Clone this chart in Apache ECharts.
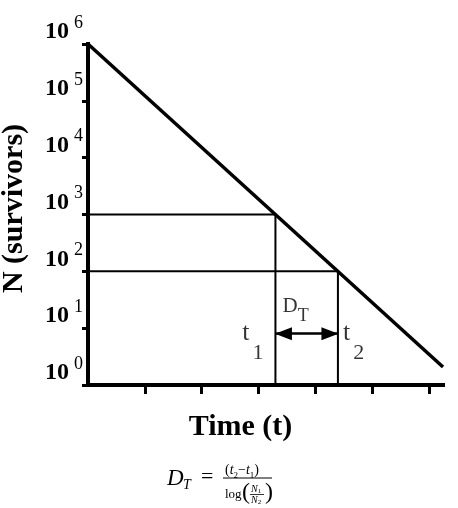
<!DOCTYPE html>
<html>
<head>
<meta charset="utf-8">
<script src="https://cdn.jsdelivr.net/npm/echarts@6/dist/echarts.min.js"></script>
<style>
  html, body { margin: 0; padding: 0; background: #fff; }
  #char { width: 458px; height: 508px; }
</style>
</head>
<body>
<div id="char"></div>
<script>
// survivor curve (time, N)
const decayTime = [0, 6.25]
const decayN = [1000000, 2.08]
// reading points
const t1 = 3.3
const t2 = 4.4
const N1 = 1000
const N2 = 100
const arrowN = 8
const labelN = 3.9
// axis ticks
const yExponents = ['0', '1', '2', '3', '4', '5', '6']
const xTickValues = [1, 2, 3, 4, 5, 6]

const serif = 'Liberation Serif, Times New Roman, serif'

let myChart = echarts.init(document.getElementById('char'))

let option = {
  animation: false,
  grid: { left: 88, right: 15, top: 44, bottom: 123, containLabel: false, outerBoundsMode: 'none' },
  xAxis: {
    type: 'value',
    min: 0,
    max: 6.25,
    interval: 1,
    name: 'Time (t)',
    nameLocation: 'middle',
    nameGap: 27,
    nameTextStyle: {
      fontFamily: serif, fontSize: 30, fontWeight: 'bold', color: '#000',
      lineHeight: 30, padding: [0, 50, 0, 0]
    },
    axisLine: { lineStyle: { color: '#000', width: 4, cap: 'square' } },
    axisTick: { customValues: xTickValues, length: 9, lineStyle: { color: '#000', width: 3 } },
    axisLabel: { show: false },
    splitLine: { show: false }
  },
  yAxis: {
    type: 'log',
    logBase: 10,
    min: 1,
    max: 1000000,
    name: 'N (survivors)',
    nameLocation: 'middle',
    nameRotate: 90,
    nameGap: 59,
    nameTextStyle: {
      fontFamily: serif, fontSize: 30, fontWeight: 'bold', color: '#000',
      lineHeight: 30, padding: [0, 0, 0, 12]
    },
    axisLine: { show: true, lineStyle: { color: '#000', width: 4, cap: 'square' } },
    axisTick: { length: 6, lineStyle: { color: '#000', width: 3 } },
    axisLabel: {
      margin: 5,
      verticalAlign: 'bottom',
      formatter: function (v) {
        let e = yExponents[Math.round(Math.log10(v))]
        return '{b|10}{e|' + e + '}'
      },
      rich: {
        b: { fontFamily: serif, fontSize: 24, fontWeight: 'bold', color: '#000', lineHeight: 24, verticalAlign: 'bottom' },
        e: { fontFamily: serif, fontSize: 18, color: '#000', lineHeight: 18, padding: [0, 0, 12, 5], verticalAlign: 'bottom' }
      }
    },
    splitLine: { show: false }
  },
  series: [
    {
      type: 'line',
      data: decayTime.map((t, i) => [t, decayN[i]]),
      showSymbol: false,
      lineStyle: { color: '#000', width: 3.5 },
      z: 5
    },
    {
      type: 'line',
      data: [[0, N1], [t1, N1], [t1, 1]],
      showSymbol: false,
      lineStyle: { color: '#000', width: 2 }
    },
    {
      type: 'line',
      data: [[0, N2], [t2, N2], [t2, 1]],
      showSymbol: false,
      lineStyle: { color: '#000', width: 2 },
      markLine: {
        silent: true,
        symbol: ['triangle', 'triangle'],
        symbolSize: [13, 17],
        symbolOffset: [[0, 8], [0, 8]],
        label: { show: false },
        lineStyle: { color: '#000', width: 2.5, type: 'solid' },
        itemStyle: { color: '#000' },
        data: [[{ coord: [t1, arrowN] }, { coord: [t2, arrowN] }]]
      }
    },
    {
      // annotations t1, t2, D_T
      type: 'scatter',
      symbolSize: 0,
      silent: true,
      label: {
        show: true,
        color: '#000',
        rich: {
          t: { fontFamily: serif, fontSize: 26, lineHeight: 26, padding: [0, 0, 18, 0], verticalAlign: 'bottom' },
          s: { fontFamily: serif, fontSize: 22, lineHeight: 22, padding: [0, 0, 0, 3], verticalAlign: 'bottom' },
          D: { fontFamily: serif, fontSize: 21, lineHeight: 21, padding: [0, 0, 9, 0], verticalAlign: 'bottom' },
          T: { fontFamily: serif, fontSize: 18, lineHeight: 18, verticalAlign: 'bottom' }
        }
      },
      data: [
        { value: [t1, labelN], label: { position: 'left', distance: 12, formatter: '{t|t}{s|1}' } },
        { value: [t2, labelN], label: { position: 'right', distance: 5, formatter: '{t|t}{s|2}' } },
        { value: [(t1 + t2) / 2, arrowN], label: { position: 'top', distance: 8, offset: [-11, 0], formatter: '{D|D}{T|T}' } }
      ]
    }
  ],
  graphic: [
    // D_T = (t2 - t1) / log(N1/N2)
    { type: 'text', left: 167, top: 467, style: { text: 'D', font: 'italic 23px ' + serif, fill: '#000' } },
    { type: 'text', left: 183, top: 478, style: { text: 'T', font: 'italic 14px ' + serif, fill: '#000' } },
    { type: 'text', left: 201, top: 466, style: { text: '=', font: '22px ' + serif, fill: '#000' } },
    { type: 'line', shape: { x1: 223, y1: 478, x2: 272, y2: 478 }, style: { stroke: '#000', lineWidth: 1 } },
    {
      type: 'text', left: 225, top: 463,
      style: {
        text: '{p|(}{i|t}{s|2}{p|−}{i|t}{s|1}{p|)}',
        rich: {
          p: { fontFamily: serif, fontSize: 14, lineHeight: 15, verticalAlign: 'top' },
          i: { fontFamily: serif, fontSize: 14, fontStyle: 'italic', lineHeight: 15, verticalAlign: 'top' },
          s: { fontFamily: serif, fontSize: 9, lineHeight: 9, padding: [8, 0, 0, 0], verticalAlign: 'top' }
        }
      }
    },
    { type: 'text', left: 225, top: 488, style: { text: 'log', font: '13px ' + serif, fill: '#000' } },
    { type: 'text', left: 242, top: 481, style: { text: '(', font: '24px ' + serif, fill: '#000' } },
    { type: 'text', left: 251, top: 484, style: { text: '{i|N}{s|1}', rich: { i: { fontFamily: serif, fontSize: 10, fontStyle: 'italic' }, s: { fontFamily: serif, fontSize: 7, padding: [4, 0, 0, 0] } } } },
    { type: 'line', shape: { x1: 250, y1: 494.5, x2: 264, y2: 494.5 }, style: { stroke: '#000', lineWidth: 0.8 } },
    { type: 'text', left: 251, top: 495, style: { text: '{i|N}{s|2}', rich: { i: { fontFamily: serif, fontSize: 10, fontStyle: 'italic' }, s: { fontFamily: serif, fontSize: 7, padding: [4, 0, 0, 0] } } } },
    { type: 'text', left: 265, top: 481, style: { text: ')', font: '24px ' + serif, fill: '#000' } }
  ]
}

myChart.setOption(option)
</script>
</body>
</html>
